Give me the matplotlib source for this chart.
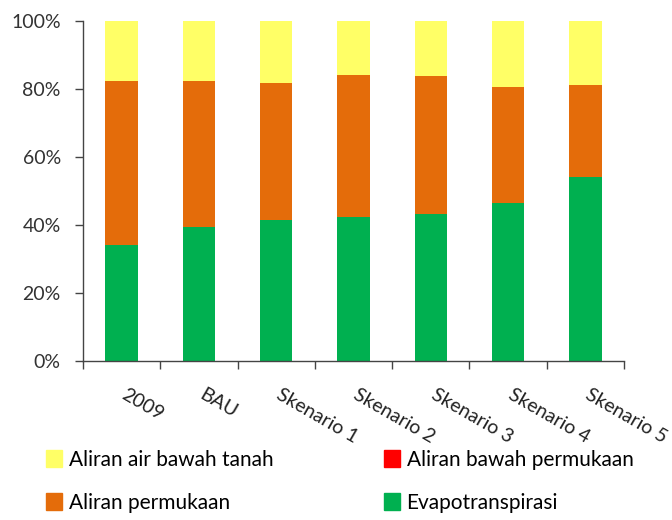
import matplotlib
matplotlib.use("Agg")
import matplotlib.pyplot as plt
import matplotlib.transforms as mtransforms
from matplotlib.patches import Patch
import numpy as np

categories = ["2009", "BAU", "Skenario 1", "Skenario 2", "Skenario 3", "Skenario 4", "Skenario 5"]
evapotranspirasi = [34.0, 39.4, 41.4, 42.4, 43.1, 46.5, 54.1]
aliran_permukaan = [48.3, 42.9, 40.2, 41.6, 40.6, 33.9, 27.0]
aliran_bawah_permukaan = [0.0, 0.0, 0.0, 0.0, 0.0, 0.0, 0.0]
aliran_air_bawah_tanah = [17.7, 17.7, 18.4, 16.0, 16.3, 19.6, 18.9]
yticks = [0, 20, 40, 60, 80, 100]

plt.rcParams["font.family"] = ["Lato", "DejaVu Sans"]

c_green = "#00B050"
c_orange = "#E46C0A"
c_red = "#FF0000"
c_yellow = "#FFFF66"

fig = plt.figure(figsize=(6.72, 5.2), dpi=100)
ax = fig.add_axes([0.1235, 0.3063, 0.805, 0.6537])

x = np.arange(len(categories))
w = 0.42
b1 = np.array(evapotranspirasi)
b2 = b1 + np.array(aliran_permukaan)
b3 = b2 + np.array(aliran_bawah_permukaan)
ax.bar(x, evapotranspirasi, w, color=c_green)
ax.bar(x, aliran_permukaan, w, bottom=b1, color=c_orange)
ax.bar(x, aliran_bawah_permukaan, w, bottom=b2, color=c_red)
ax.bar(x, aliran_air_bawah_tanah, w, bottom=b3, color=c_yellow)

ax.set_xlim(-0.5, len(categories) - 0.5)
ax.set_ylim(0, 100)
ax.set_yticks(yticks)
ax.set_yticklabels([f"{v}%" for v in yticks], fontsize=14, color="#333333")
ax.tick_params(axis="y", length=6, width=1, color="#444444", pad=10)

ax.set_xticks(x)
ax.set_xticklabels(categories, rotation=-30, ha="left", va="top",
                   rotation_mode="anchor", fontsize=14, color="#222222")
ax.tick_params(axis="x", which="major", length=0, pad=18)
shift = mtransforms.ScaledTranslation(6 / 100, 0, fig.dpi_scale_trans)
for lbl in ax.get_xticklabels():
    lbl.set_transform(lbl.get_transform() + shift)
ax.set_xticks(np.arange(len(categories) + 1) - 0.5, minor=True)
ax.tick_params(axis="x", which="minor", length=6, width=1, color="#444444")

for s in ["top", "right"]:
    ax.spines[s].set_visible(False)
for s in ["left", "bottom"]:
    ax.spines[s].set_color("#444444")
    ax.spines[s].set_linewidth(1)

handles = [Patch(color=c_yellow), Patch(color=c_orange), Patch(color=c_red), Patch(color=c_green)]
labels = ["Aliran air bawah tanah", "Aliran permukaan", "Aliran bawah permukaan", "Evapotranspirasi"]
fig.legend(handles, labels, ncol=2, loc="lower left", bbox_to_anchor=(0.04, -0.022),
           frameon=False, fontsize=15, handlelength=0.8, handleheight=0.9,
           handletextpad=0.3, columnspacing=5.3, labelspacing=1.1)

fig.savefig("out.png", dpi=100)
